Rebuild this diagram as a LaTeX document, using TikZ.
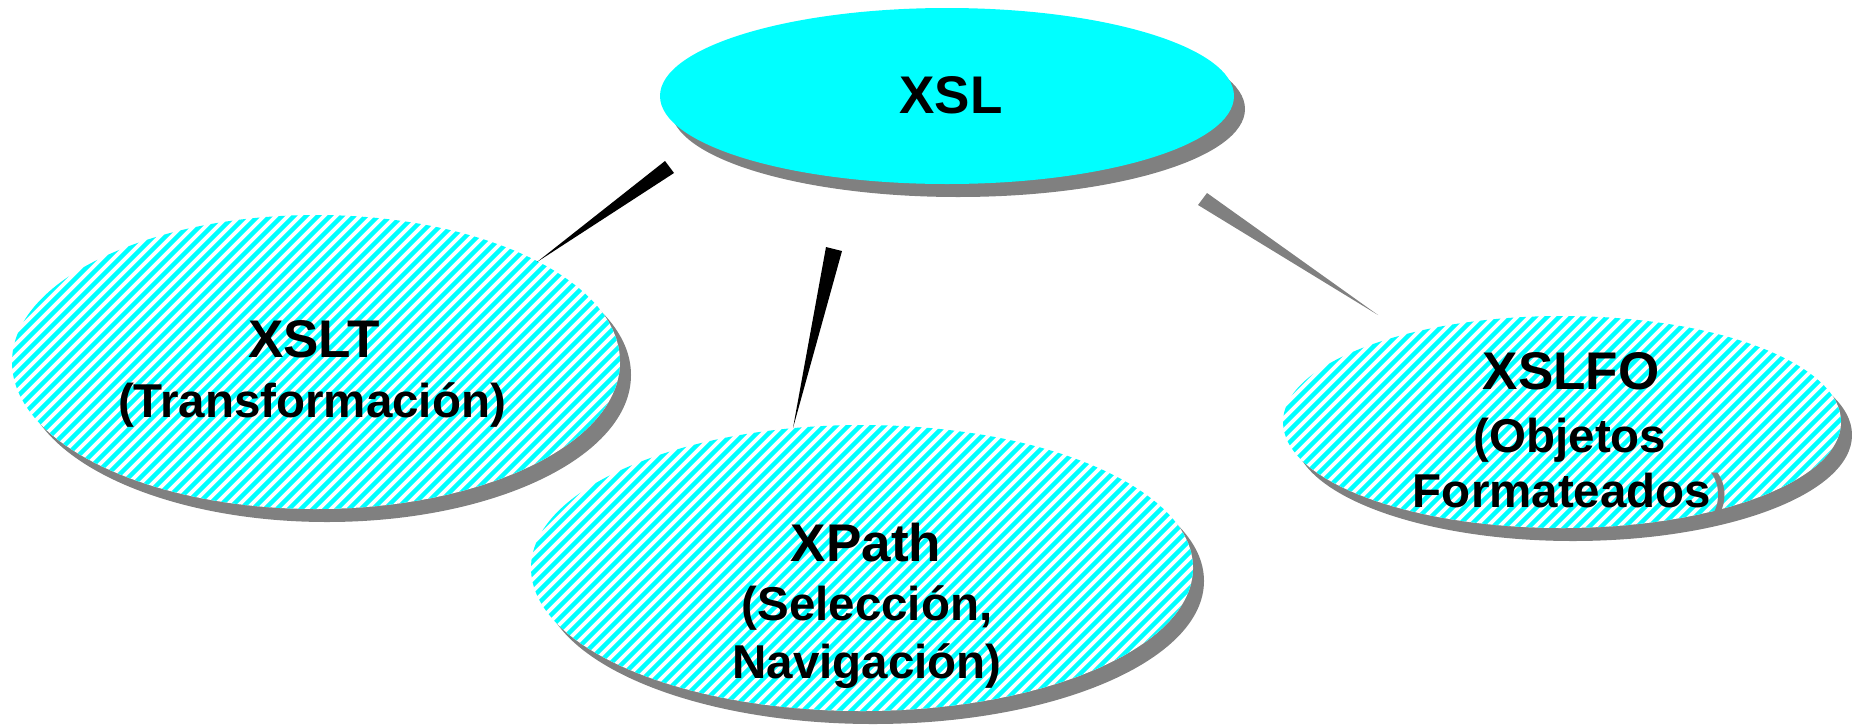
\documentclass[tikz,border=0pt]{standalone}
\usepackage{fontspec}
\setmainfont{Liberation Sans}
\usetikzlibrary{shapes.geometric,backgrounds}

\definecolor{aqua}{HTML}{00FFFF}
\definecolor{shadowgray}{HTML}{808080}

\tikzset{
  % diagonal aqua/white hatching clipped to the node outline
  hatched/.style={
    fill=white,
    path picture={
      \foreach \k in {-54,...,54}{
        \draw[aqua, line width=4.4pt]
          ([xshift=\k*12pt]path picture bounding box.center)
          ++(-260pt,-260pt) -- ++(520pt,520pt);
      }
    }
  },
  bubble/.style={ellipse, inner sep=0pt, draw=none},
  title/.style={font=\bfseries\fontsize{53}{60}\selectfont, anchor=base, inner sep=0pt},
  subtitle/.style={font=\bfseries\fontsize{47.5}{58}\selectfont, anchor=base, inner sep=0pt},
  wedge/.style={fill=black, draw=none},
  greywedge/.style={fill=shadowgray, draw=none},
}

\begin{document}
\begin{tikzpicture}[x=1pt,y=-1pt]
  \useasboundingbox (0,0) rectangle (1852,726);

  % main node and the three sub-languages
  \node[bubble, fill=aqua, minimum width=574pt, minimum height=176pt] (xsl) at (947,96) {};
  \node[bubble, hatched, minimum width=608pt, minimum height=294pt] (xslt) at (316,362) {};
  \node[bubble, hatched, minimum width=662pt, minimum height=286pt] (xpath) at (862,568) {};
  \node[bubble, hatched, minimum width=558pt, minimum height=212pt] (xslfo) at (1562,422) {};

  % drop shadows behind every ellipse
  \begin{scope}[on background layer]
    \foreach \n/\rx/\ry in {xsl/287/88, xslt/304/147, xpath/331/143, xslfo/279/106}{
      \fill[shadowgray] ([shift={(11,13)}]\n.center) ellipse [x radius=\rx pt, y radius=\ry pt];
    }
  \end{scope}

  % tapered connectors
  \coordinate (w1a) at (665,161);
  \coordinate (w1b) at (674,173);
  \coordinate (w1t) at (537,262);
  \coordinate (w2a) at (826,247);
  \coordinate (w2b) at (842,251);
  \coordinate (w2t) at (793,428);
  \coordinate (w3a) at (1198,205);
  \coordinate (w3b) at (1207,193);
  \coordinate (w3t) at (1378,315);
  \fill[wedge] (w1a) -- (w1b) -- (w1t) -- cycle;
  \fill[wedge] (w2a) -- (w2b) -- (w2t) -- cycle;
  \fill[greywedge] (w3a) -- (w3b) -- (w3t) -- cycle;

  % labels
  \node[title] (lxsl) at (951,113) {XSL};

  \node[title] (lxslt) at (314,357) {XSLT};
  \node[subtitle] (lxslt2) at (312,417) {(Transformación)};

  \node[title] (lxpath) at (866,561) {XPath};
  \node[subtitle] (lxpath2) at (867,620) {(Selección,};
  \node[subtitle] (lxpath3) at (867,678) {Navigación)};

  \node[title] (lxslfo) at (1571,389) {XSLFO};
  \node[subtitle] (lxslfo2) at (1570,452) {(Objetos};
  \node[subtitle] (lxslfo3) at (1570,507) {Formateados\textcolor{shadowgray}{)}};
\end{tikzpicture}
\end{document}
